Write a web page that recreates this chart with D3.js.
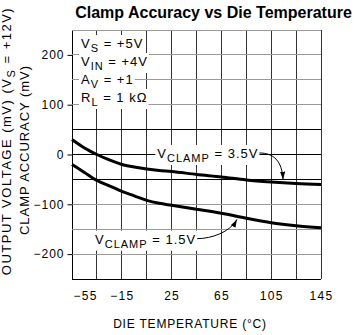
<!DOCTYPE html>
<html>
<head>
<meta charset="utf-8">
<script src="https://cdn.jsdelivr.net/npm/d3@7"></script>
<style>
  html, body { margin: 0; padding: 0; background: #fff; }
  svg { display: block; }
  text { font-family: "Liberation Sans", Arial, Helvetica, sans-serif; fill: #000; }
</style>
</head>
<body>
<svg id="chart" width="357" height="335"></svg>
<script>
// Die temperature (°C) and clamp accuracy (mV) for the two clamp voltages
const temperatures = [-55, -45, -35, -25, -15, -5, 5, 15, 25, 45, 65, 85, 105, 125, 145];
const clamp35 = [30, 13, 0, -11, -20, -25, -29, -32, -34, -40, -45, -51, -55, -58, -60];
const clamp15 = [-20, -36, -52, -63, -74, -83, -92, -98, -102, -110, -118, -128, -137, -143, -147];

const xTickValues = [-55, -15, 25, 65, 105, 145];
const yTickValues = [-200, -100, 0, 100, 200];

// Test conditions: [symbol, subscript, rest]
const conditions = [
  ["V", "S", " = +5V"],
  ["V", "IN", " = +4V"],
  ["A", "V", " = +1"],
  ["R", "L", " = 1 kΩ"]
];

const svg = d3.select("#chart");
const plot = { left: 72, right: 321, top: 30, bottom: 279 };

const x = d3.scaleLinear().domain([-55, 145]).range([plot.left, plot.right]);
const y = d3.scaleLinear().domain([-250, 250]).range([plot.bottom, plot.top]);
const crisp = v => Math.round(v - 0.5) + 0.5;

// Grid
const grid = svg.append("g");
grid.selectAll("line.v")
  .data(d3.range(-55, 146, 20))
  .join("line")
  .attr("x1", d => crisp(x(d))).attr("x2", d => crisp(x(d)))
  .attr("y1", plot.top).attr("y2", plot.bottom)
  .attr("stroke", d => (d === -55 ? "#000" : "#333"))
  .attr("stroke-width", 1);

grid.selectAll("line.h")
  .data(d3.range(-250, 251, 50))
  .join("line")
  .attr("x1", plot.left).attr("x2", plot.right)
  .attr("y1", d => crisp(y(d))).attr("y2", d => crisp(y(d)))
  .attr("stroke", d => (Math.abs(d) <= 50 || d === -250 ? "#000" : "#9a9a9a"))
  .attr("stroke-width", 1);

// Axes
const yAxis = svg.append("g")
  .attr("transform", `translate(${crisp(plot.left)},0)`)
  .call(d3.axisLeft(y).tickValues(yTickValues).tickSize(5).tickPadding(3));
yAxis.select(".domain").remove();
yAxis.selectAll(".tick line").attr("stroke", "#000");
yAxis.selectAll(".tick text")
  .attr("font-size", 12).attr("letter-spacing", 1)
  .attr("font-family", "Liberation Sans, Arial, sans-serif");

const xAxis = svg.append("g")
  .attr("transform", `translate(0,${plot.bottom})`)
  .call(d3.axisBottom(x).tickValues(xTickValues).tickSize(0).tickPadding(12));
xAxis.select(".domain").remove();
xAxis.selectAll(".tick text")
  .attr("font-size", 12).attr("letter-spacing", 1.3)
  .attr("font-family", "Liberation Sans, Arial, sans-serif");
// the leftmost label starts at the plot edge instead of centring on it
xAxis.selectAll(".tick text")
  .filter(d => d === xTickValues[0])
  .attr("x", function () { return this.getBBox().width / 2 + 1; });

// Labelled text with a subscript and a white backing box
function subLabel(g, px, py, parts, size, subSize) {
  const t = g.append("text")
    .attr("x", px).attr("y", py)
    .attr("font-size", size).attr("letter-spacing", 1);
  t.append("tspan").text(parts[0]);
  t.append("tspan").attr("font-size", subSize).attr("dy", 4).text(parts[1]);
  t.append("tspan").attr("dy", -4).text(parts[2]);
  const b = t.node().getBBox();
  g.insert("rect", "text")
    .attr("x", b.x - 2).attr("y", b.y - 1)
    .attr("width", b.width + 3).attr("height", b.height + 2)
    .attr("fill", "#fff");
  return b;
}

// Condition block
const condG = svg.append("g");
conditions.forEach((c, i) => {
  const g = condG.append("g");
  subLabel(g, plot.left + 9, plot.top + 18 + 18 * i, c, 13, 11);
});

// Curves
const line = d3.line()
  .x((d, i) => x(temperatures[i]))
  .y(d => y(d))
  .curve(d3.curveMonotoneX);

svg.append("g").selectAll("path")
  .data([clamp35, clamp15])
  .join("path")
  .attr("d", line)
  .attr("fill", "none")
  .attr("stroke", "#000")
  .attr("stroke-width", 3)
  .attr("stroke-linejoin", "round");

// Arrowhead marker
svg.append("defs").append("marker")
  .attr("id", "arrowhead")
  .attr("viewBox", "0 0 8 6")
  .attr("refX", 8).attr("refY", 3)
  .attr("markerWidth", 8).attr("markerHeight", 6)
  .attr("markerUnits", "userSpaceOnUse")
  .attr("orient", "auto")
  .append("path")
  .attr("d", "M0,0.4 L8,3 L0,5.6 Z")
  .attr("fill", "#000");

// Series annotations with curved leaders
const notes = [
  { series: clamp35, text: ["V", "CLAMP", " = 3.5V"], t: 13.5, mv: -7, tipT: 114.5, side: -1 },
  { series: clamp15, text: ["V", "CLAMP", " = 1.5V"], t: -36.5, mv: -179, tipT: 77.5, side: 1 }
];

notes.forEach(n => {
  const g = svg.append("g");
  const b = subLabel(g, x(n.t), y(n.mv), n.text, 13, 11);
  const valueAt = d3.scaleLinear().domain(temperatures).range(n.series);
  const tx = x(n.tipT);
  const ty = y(valueAt(n.tipT)) + 3 * n.side;
  const sx = b.x + b.width + 1;
  const sy = y(n.mv) - 5;
  const c2 = n.side < 0 ? [tx - 1, ty - 19] : [tx - 7, ty + 13];
  g.append("path")
    .attr("d", `M${sx},${sy} C${sx + 14},${sy} ${c2[0]},${c2[1]} ${tx},${ty}`)
    .attr("fill", "none")
    .attr("stroke", "#000")
    .attr("stroke-width", 1)
    .attr("marker-end", "url(#arrowhead)");
});

// Title
svg.append("text")
  .attr("x", 213.5).attr("y", 18)
  .attr("text-anchor", "middle")
  .attr("font-size", 16).attr("font-weight", "bold")
  .text("Clamp Accuracy vs Die Temperature");

// Axis titles
svg.append("text")
  .attr("x", 190).attr("y", 328)
  .attr("text-anchor", "middle")
  .attr("font-size", 12).attr("letter-spacing", 0.8)
  .text("DIE TEMPERATURE (°C)");

svg.append("text")
  .attr("transform", "translate(29,150) rotate(-90)")
  .attr("text-anchor", "middle")
  .attr("font-size", 13).attr("letter-spacing", 0.95)
  .text("CLAMP ACCURACY (mV)");

const outer = svg.append("text")
  .attr("transform", "translate(10.5,141) rotate(-90)")
  .attr("text-anchor", "middle")
  .attr("font-size", 13).attr("letter-spacing", 1.5);
outer.append("tspan").text("OUTPUT VOLTAGE (mV) (V");
outer.append("tspan").attr("font-size", 11).attr("dy", 4).text("S");
outer.append("tspan").attr("dy", -4).text(" = +12V)");
</script>
</body>
</html>
